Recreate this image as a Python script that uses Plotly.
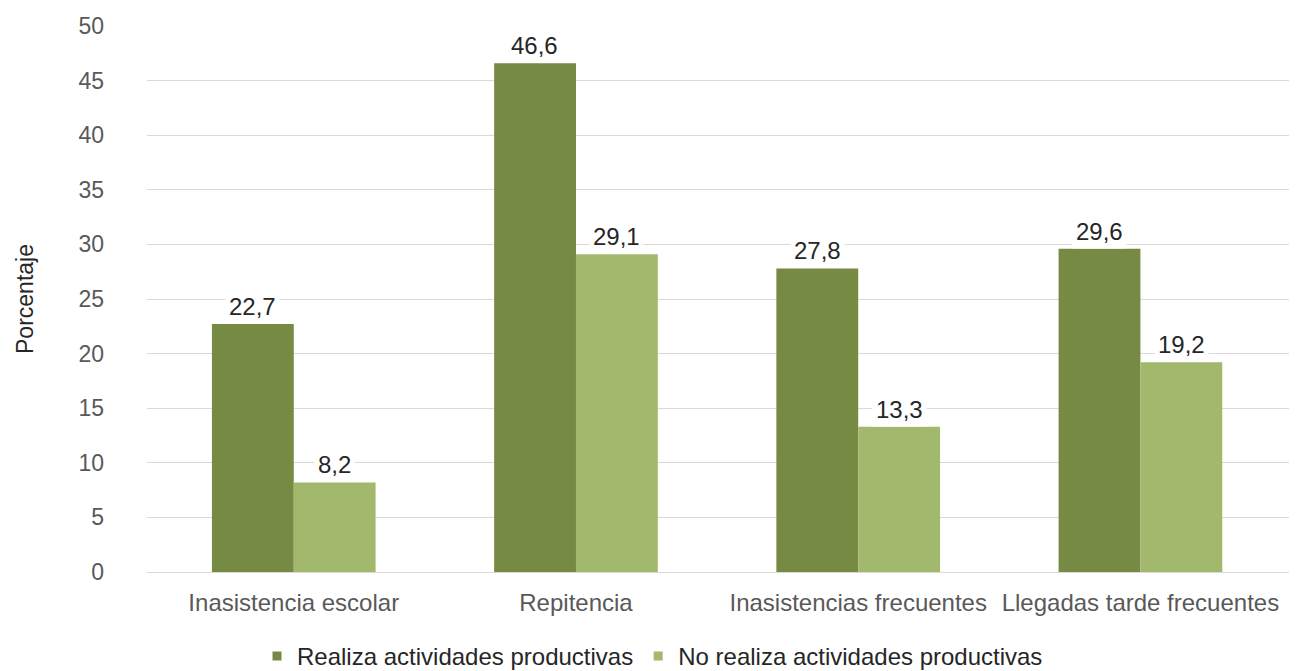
import plotly.graph_objects as go

categories = ["Inasistencia escolar", "Repitencia", "Inasistencias frecuentes", "Llegadas tarde frecuentes"]
series_names = ["Realiza actividades productivas", "No realiza actividades productivas"]
realiza = [22.7, 46.6, 27.8, 29.6]
no_realiza = [8.2, 29.1, 13.3, 19.2]
y_ticks = [0, 5, 10, 15, 20, 25, 30, 35, 40, 45, 50]

colors = ["#768A43", "#A2B96D"]
FONT = "Liberation Sans, Arial, Helvetica, sans-serif"
GRAY = "#595959"
DARK = "#262626"

fig = go.Figure()
for name, vals, col in zip(series_names, [realiza, no_realiza], colors):
    fig.add_trace(go.Bar(x=categories, y=vals, name=name, showlegend=False,
                         marker=dict(color=col, line=dict(width=0))))
    # legend swatch (small square)
    fig.add_trace(go.Scatter(x=[None], y=[None], mode="markers", name=name,
                             marker=dict(symbol="square", size=9, color=col)))

def fmt(v):
    return f"{v:.1f}".replace(".", ",")

for vals, shift in [(realiza, -41), (no_realiza, 41)]:
    for c, v in zip(categories, vals):
        fig.add_annotation(x=c, y=v, xref="x", yref="y", text=fmt(v), showarrow=False,
                           xshift=shift, yshift=0, yanchor="bottom",
                           bgcolor="white", borderpad=3,
                           font=dict(family=FONT, size=24, color=DARK))

fig.update_layout(
    width=1289, height=663,
    margin=dict(l=139, r=7, t=17.5, b=99, autoexpand=False),
    paper_bgcolor="white", plot_bgcolor="white",
    barmode="group", bargap=0.42, bargroupgap=0,
    font=dict(family=FONT, size=23, color=GRAY),
    showlegend=True,
    legend=dict(orientation="h", x=0.5, xanchor="center", xref="container",
                y=0.022, yanchor="middle", yref="container",
                font=dict(family=FONT, size=24, color=DARK),
                itemwidth=30, bgcolor="rgba(0,0,0,0)"),
)
fig.update_xaxes(range=[-0.52, 3.53], showgrid=False, showline=False, ticks="",
                 tickfont=dict(family=FONT, size=24, color=GRAY), ticklabelstandoff=14)
fig.update_yaxes(range=[0, 50], tickvals=y_ticks, showgrid=True, gridcolor="#D9D9D9", gridwidth=1.3,
                 zeroline=True, zerolinecolor="#D9D9D9", zerolinewidth=1.3,
                 showline=False, ticks="", ticklabelstandoff=42,
                 tickfont=dict(family=FONT, size=23, color=GRAY),
                 title=dict(text="Porcentaje", standoff=38, font=dict(family=FONT, size=23, color=DARK)))

fig.write_html("out.html")
